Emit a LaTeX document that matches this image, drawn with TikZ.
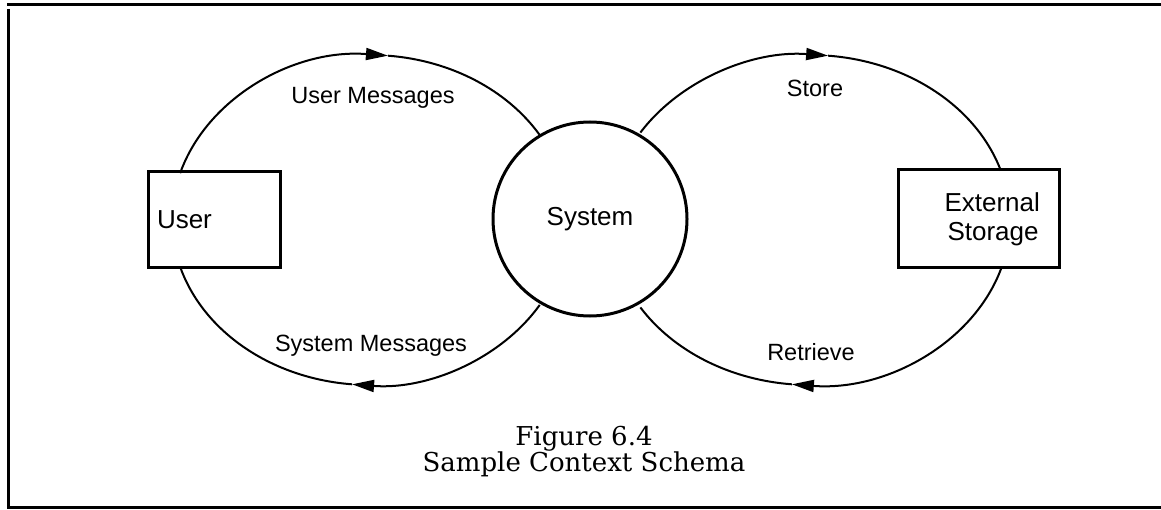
\documentclass[tikz,border=0pt]{standalone}
\usepackage{fontspec}
\setmainfont{Liberation Sans}
\newfontfamily\capfont{DejaVu Serif}
\usetikzlibrary{arrows.meta}
\begin{document}
\begin{tikzpicture}[x=1pt,y=-1pt,
  box/.style={draw, line width=3pt, inner sep=0pt, font=\fontsize{26}{29}\selectfont},
  proc/.style={draw, circle, line width=3pt, minimum size=194pt, inner sep=0pt, font=\fontsize{26}{29}\selectfont},
  flow/.style={line width=2pt},
  tipped/.style={-{Triangle[length=22pt,width=12pt]}},
  lbl/.style={font=\fontsize{23.5}{28}\selectfont, anchor=base, inner sep=0pt},
  captxt/.style={font=\capfont\fontsize{26}{28}\selectfont, anchor=base, inner sep=0pt},
  frameline/.style={line width=3pt}]
\useasboundingbox (0,0) rectangle (1161,510);
% frame
\draw[frameline] (7,5) -- (1161,5);
\draw[frameline] (8.5,9) -- (8.5,507.5) -- (1161,507.5);
% nodes
\node[box, minimum height=96pt, text width=114pt, align=left, inner xsep=9pt] (user) at (214,220) {User};
\node[proc] (sys) at (590,219) {System};
\node[box, minimum height=98pt, text width=161pt, align=left, inner xsep=0pt, anchor=west] (ext) at (897,219) {\hspace*{46pt}\mbox{External}\\\hspace*{49pt}\mbox{Storage}};
% ellipse centres
\coordinate (cL) at (370,220);
\coordinate (cR) at (810,220);
% user -> system (top left)
\draw[flow, tipped] (cL) ++(-163.5:198 and 165) arc[start angle=-163.5, end angle=-84.8, x radius=198, y radius=165];
\draw[flow] (cL) ++(-84.8:198 and 165) arc[start angle=-84.8, end angle=-31, x radius=198, y radius=165];
% system -> user (bottom left)
\draw[flow, tipped] (cL) ++(31:198 and 165) arc[start angle=31, end angle=95.2, x radius=198, y radius=165];
\draw[flow] (cL) ++(95.2:198 and 165) arc[start angle=95.2, end angle=163.5, x radius=198, y radius=165];
% system -> storage (top right)
\draw[flow, tipped] (cR) ++(-148:200 and 165) arc[start angle=-148, end angle=-84.8, x radius=200, y radius=165];
\draw[flow] (cR) ++(-84.8:200 and 165) arc[start angle=-84.8, end angle=-17.4, x radius=200, y radius=165];
% storage -> system (bottom right)
\draw[flow, tipped] (cR) ++(17:200 and 165) arc[start angle=17, end angle=95.2, x radius=200, y radius=165];
\draw[flow] (cR) ++(95.2:200 and 165) arc[start angle=95.2, end angle=148, x radius=200, y radius=165];
% labels
\node[lbl] (lum) at (373,104) {User Messages};
\node[lbl] (lst) at (815,97) {Store};
\node[lbl] (lsm) at (371,352) {System Messages};
\node[lbl] (lre) at (811,360) {Retrieve};
% caption
\node[captxt] (cap1) at (584,445) {Figure 6.4};
\node[captxt] (cap2) at (584,471) {Sample Context Schema};
\end{tikzpicture}
\end{document}
